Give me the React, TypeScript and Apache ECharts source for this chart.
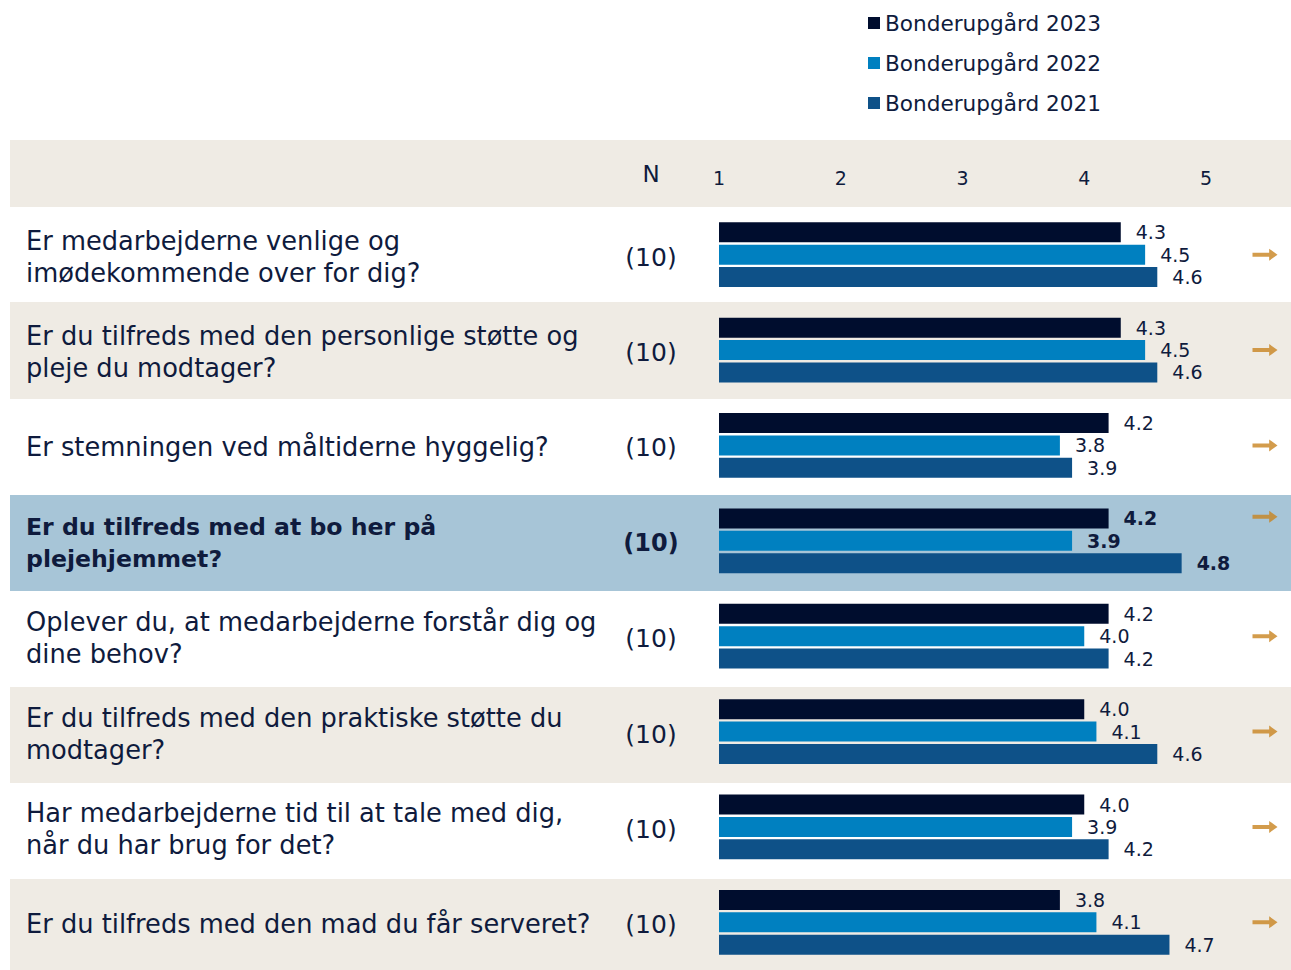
import React, { useEffect, useRef } from "react";
import * as echarts from "echarts";

const questions = [
  "Er medarbejderne venlige og\nimødekommende over for dig?",
  "Er du tilfreds med den personlige støtte og\npleje du modtager?",
  "Er stemningen ved måltiderne hyggelig?",
  "Er du tilfreds med at bo her på\nplejehjemmet?",
  "Oplever du, at medarbejderne forstår dig og\ndine behov?",
  "Er du tilfreds med den praktiske støtte du\nmodtager?",
  "Har medarbejderne tid til at tale med dig,\nnår du har brug for det?",
  "Er du tilfreds med den mad du får serveret?",
];
const nCounts = [10, 10, 10, 10, 10, 10, 10, 10];
const highlightIndex = 3;
const seriesNames = ["Bonderupgård 2023", "Bonderupgård 2022", "Bonderupgård 2021"];
const values2023 = [4.3, 4.3, 4.2, 4.2, 4.2, 4.0, 4.0, 3.8];
const values2022 = [4.5, 4.5, 3.8, 3.9, 4.0, 4.1, 3.9, 4.1];
const values2021 = [4.6, 4.6, 3.9, 4.8, 4.2, 4.6, 4.2, 4.7];
const trends = ["flat", "flat", "flat", "flat", "flat", "flat", "flat", "flat"];
const xTickMin = 1;
const xTickMax = 5;

const COLORS = ["#000d2e", "#0080c0", "#0e5188"];
const TEXT = "#0f1b3d";
const BEIGE = "#efebe4";
const HIGHLIGHT = "#a7c5d7";
const FONT = "DejaVu Sans";

export default function App() {
  const ref = useRef<HTMLDivElement>(null);
  useEffect(() => {
    document.body.style.margin = "0";
    if (!ref.current) return;
    const chart = echarts.init(ref.current, null, { renderer: "svg" });

    const gridTop = 207;
    const band = 95.5;
    const gridHeight = band * questions.length;

    const rowBgs: any[] = [];
    rowBgs.push({ type: "rect", z: -10, shape: { x: 10, y: 140, width: 1281, height: 67 }, style: { fill: BEIGE } });
    const rowTops = [207, 302, 399, 495, 591, 687, 783, 879, 975];
    const rowFills = [null, BEIGE, null, HIGHLIGHT, null, BEIGE, null, BEIGE];
    rowFills.forEach((f, i) => {
      if (!f) return;
      rowBgs.push({
        type: "rect",
        z: -10,
        shape: { x: 10, y: rowTops[i], width: 1281, height: rowTops[i + 1] - rowTops[i] },
        style: { fill: f },
      });
    });

    const allValues = [values2023, values2022, values2021];
    const barSeries = allValues.map((vals, s) => ({
      type: "bar",
      name: seriesNames[s],
      xAxisIndex: 0,
      yAxisIndex: 0,
      barWidth: 20,
      barGap: "12%",
      clip: true,
      itemStyle: { color: COLORS[s] },
      label: {
        show: true,
        position: "right",
        distance: 15,
        fontFamily: FONT,
        fontSize: 19,
        color: TEXT,
        formatter: (p: any) => Number(p.value).toFixed(1),
      },
      data: vals.map((v, i) =>
        i === highlightIndex ? { value: v, label: { fontWeight: "bold" } } : v
      ),
    }));

    const arrowPath = "path://M0,4 L16,4 L16,0 L24,6 L16,12 L16,8 L0,8 Z";

    chart.setOption({
      animation: false,
      textStyle: { fontFamily: FONT },
      legend: {
        orient: "vertical",
        left: 863,
        top: 7,
        itemWidth: 12,
        itemHeight: 12,
        itemGap: 18,
        icon: "rect",
        data: seriesNames,
        textStyle: { fontFamily: FONT, fontSize: 21.6, color: TEXT },
      },
      graphic: [
        ...rowBgs,
        {
          type: "text",
          x: 651,
          y: 174,
          style: { text: "N", fontFamily: FONT, fontSize: 23, fill: TEXT, align: "center", verticalAlign: "middle" },
        },
      ],
      grid: [
        { left: 719, top: gridTop, width: 487, height: gridHeight },
        { left: 1240, top: gridTop, width: 50, height: gridHeight },
      ],
      xAxis: [
        {
          type: "value",
          gridIndex: 0,
          position: "top",
          min: xTickMin,
          max: xTickMax,
          interval: 1,
          axisLine: { show: false },
          axisTick: { show: false },
          splitLine: { show: false },
          axisLabel: { fontFamily: FONT, fontSize: 19, color: TEXT, margin: 20 },
        },
        { type: "value", gridIndex: 1, min: 0, max: 1, show: false },
      ],
      yAxis: [
        {
          type: "category",
          gridIndex: 0,
          inverse: true,
          data: questions,
          axisLine: { show: false },
          axisTick: { show: false },
          axisLabel: {
            align: "left",
            margin: 693,
            fontFamily: FONT,
            fontSize: 25.7,
            lineHeight: 32,
            color: TEXT,
            formatter: (v: string, i: number) => (i === highlightIndex ? `{b|${v}}` : `{n|${v}}`),
            rich: {
              n: { fontFamily: FONT, fontSize: 25.7, lineHeight: 32, color: TEXT, padding: [4, 0, 0, 0] },
              b: { fontFamily: FONT, fontSize: 23.6, lineHeight: 32, color: TEXT, fontWeight: "bold", padding: [4, 0, 0, 0] },
            },
          },
        },
        {
          type: "category",
          gridIndex: 0,
          inverse: true,
          position: "left",
          offset: 0,
          data: questions,
          axisLine: { show: false },
          axisTick: { show: false },
          axisLabel: {
            align: "center",
            margin: 68,
            fontFamily: FONT,
            fontSize: 25,
            color: TEXT,
            formatter: (_v: string, i: number) =>
              i === highlightIndex ? `{b|(${nCounts[i]})}` : `{n|(${nCounts[i]})}`,
            rich: {
              n: { fontFamily: FONT, fontSize: 25, color: TEXT, padding: [5, 0, 0, 0] },
              b: { fontFamily: FONT, fontSize: 24, color: TEXT, fontWeight: "bold", padding: [5, 0, 0, 0] },
            },
          },
        },
        { type: "category", gridIndex: 1, inverse: true, data: questions, show: false },
      ],
      series: [
        ...barSeries,
        {
          type: "scatter",
          xAxisIndex: 1,
          yAxisIndex: 2,
          symbol: arrowPath,
          symbolSize: [25, 12],
          itemStyle: { color: "#c8831f" },
          data: trends.map((t, i) => ({
            value: [0.5, i],
            symbolRotate: t === "up" ? 45 : t === "down" ? -45 : 0,
            symbolOffset: i === highlightIndex ? [0, -24] : [0, 0],
          })),
        },
      ],
    });
    return () => chart.dispose();
  }, []);
  return <div ref={ref} style={{ width: 1291, height: 970 }} />;
}
